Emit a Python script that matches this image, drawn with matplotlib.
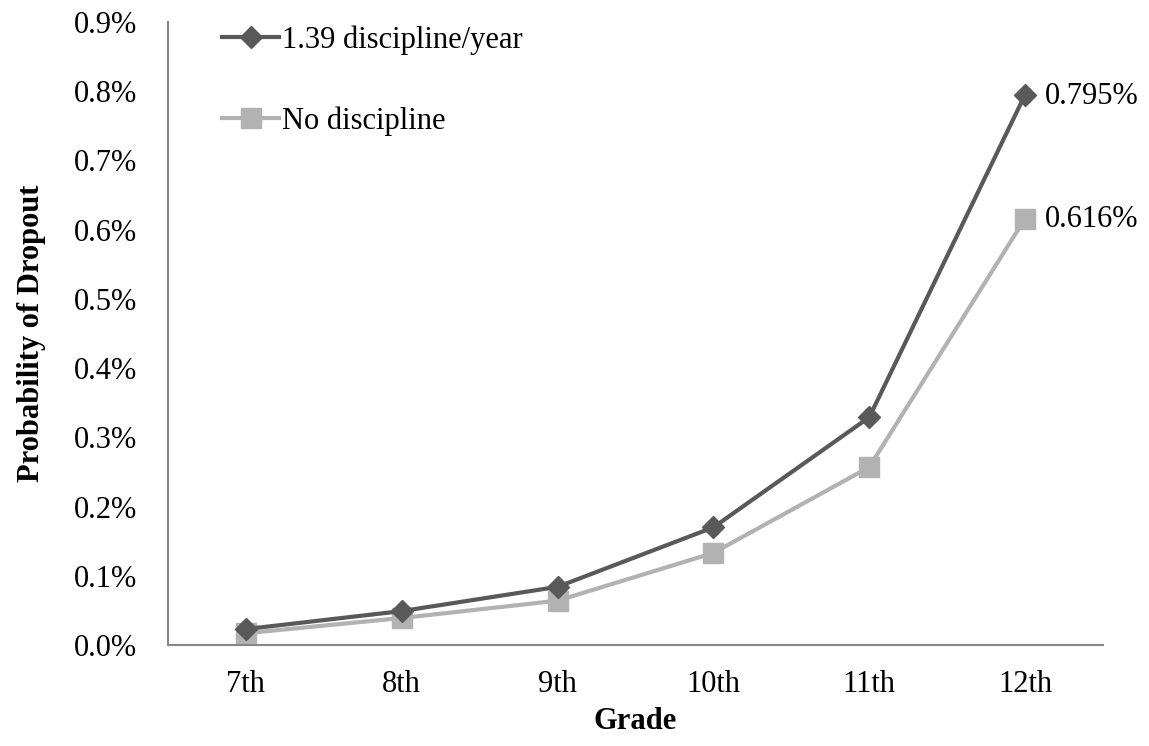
import matplotlib.pyplot as plt
from matplotlib.ticker import FuncFormatter

grades = ['7th', '8th', '9th', '10th', '11th', '12th']
discipline = [0.023, 0.049, 0.084, 0.170, 0.329, 0.795]   # % dropout, 1.39 discipline/year
no_discipline = [0.017, 0.039, 0.064, 0.133, 0.257, 0.616]  # % dropout, no discipline
labels = ['1.39 discipline/year', 'No discipline']

plt.rcParams['font.family'] = 'Liberation Serif'
fs = 22

fig = plt.figure(figsize=(11.49, 7.46), dpi=100)
ax = fig.add_axes([168/1149, 1-645/746, (1103-168)/1149, (645-22)/746])

x = range(len(grades))
ax.plot(x, discipline, color='#595959', lw=3, marker='D', ms=11, label=labels[0], zorder=3)
ax.plot(x, no_discipline, color='#B2B2B2', lw=3, marker='s', ms=14, label=labels[1], zorder=2)

ax.annotate('%.3f%%' % discipline[-1], (x[-1], discipline[-1]), xytext=(14, -1),
            textcoords='offset points', va='center', fontsize=fs)
ax.annotate('%.3f%%' % no_discipline[-1], (x[-1], no_discipline[-1]), xytext=(14, -1),
            textcoords='offset points', va='center', fontsize=fs)

ax.set_xlim(-0.5, 5.5)
ax.set_ylim(0, 0.9)
ax.set_yticks([i/10 for i in range(10)])
ax.yaxis.set_major_formatter(FuncFormatter(lambda v, p: '%.1f%%' % v))
ax.set_xticks(list(x))
ax.set_xticklabels(grades)
ax.tick_params(length=0, labelsize=fs)
ax.tick_params(axis='y', pad=22)
ax.tick_params(axis='x', pad=18)

for s in ['top', 'right']:
    ax.spines[s].set_visible(False)
for s in ['left', 'bottom']:
    ax.spines[s].set_color('#878787')
    ax.spines[s].set_linewidth(1.5)

ax.set_xlabel('Grade', fontsize=fs, fontweight='bold', labelpad=6)
ax.set_ylabel('Probability of Dropout', fontsize=fs, fontweight='bold', labelpad=20)

ax.legend(loc='upper left', bbox_to_anchor=(0.058, 0.995), frameon=False, fontsize=fs,
          borderaxespad=0, borderpad=0, handlelength=1.87, handletextpad=0.1,
          labelspacing=1.7)

fig.savefig('out.png', dpi=100)
